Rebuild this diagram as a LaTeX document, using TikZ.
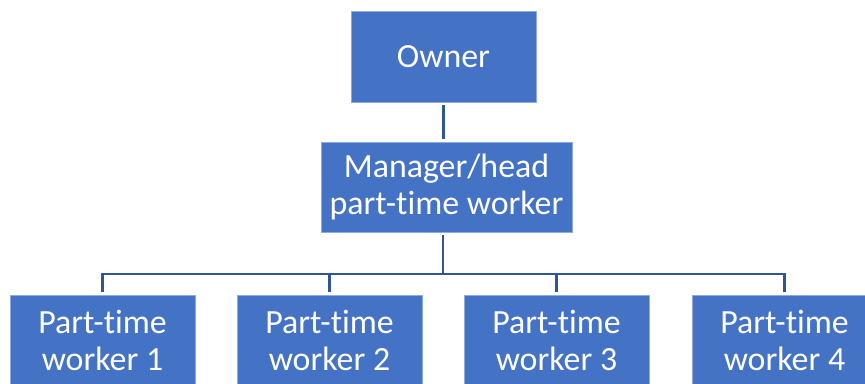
\documentclass[tikz,border=0pt]{standalone}
\usepackage{fontspec}
\setmainfont{Carlito}[RawFeature={-liga;-clig;-dlig;-calt}]
\definecolor{boxblue}{RGB}{68,114,196}
\definecolor{boxedge}{RGB}{143,170,220}
\definecolor{linkblue}{RGB}{47,85,151}

\begin{document}
\begin{tikzpicture}[x=0.75pt,y=0.75pt,yscale=-1,xscale=1,
  orgbox/.style={draw=boxedge, line width=0.5pt, fill=boxblue, text=white, align=center,
    inner sep=0pt, outer sep=2.25pt, font=\fontsize{25.4}{27.8}\selectfont},
  link/.style={draw=linkblue, line width=1.6pt}]
%set diagram area, 865 x 383
\useasboundingbox (0,0) rectangle (865,383);
\clip (0,0) rectangle (865,383);

% Boxes
\node [orgbox, minimum width=138.75pt, minimum height=68.25pt] (owner) at (443.5,56.5) {Owner};
\node [orgbox, minimum width=188.25pt, minimum height=67.5pt] (manager) at (446.5,187) {Manager/head\\part-time worker};
\node [orgbox, minimum width=138.75pt, minimum height=67.5pt] (worker1) at (102.5,340) {Part-time\\worker 1};
\node [orgbox, minimum width=138.75pt, minimum height=67.5pt] (worker2) at (329.5,340) {Part-time\\worker 2};
\node [orgbox, minimum width=138.75pt, minimum height=67.5pt] (worker3) at (556.5,340) {Part-time\\worker 3};
\node [orgbox, minimum width=138.75pt, minimum height=67.5pt] (worker4) at (784.5,340) {Part-time\\worker 4};

% Connectors
\coordinate (bus) at (443,274);
\draw [link] (owner.south) -- (owner.south |- manager.north);
\draw [link] (bus |- manager.south) -- (bus);
\draw [link] (bus) -| (worker1.north);
\draw [link] (bus) -| (worker2.north);
\draw [link] (bus) -| (worker3.north);
\draw [link] (bus) -| (worker4.north);

\end{tikzpicture}
\end{document}
